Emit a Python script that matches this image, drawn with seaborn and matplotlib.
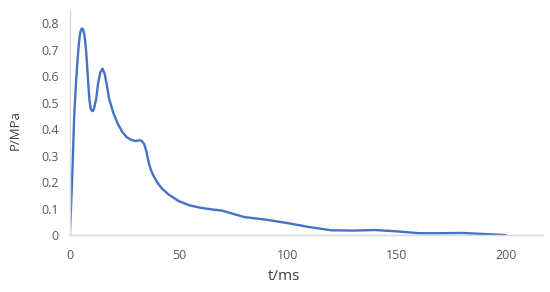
import matplotlib
matplotlib.use("Agg")
import matplotlib.pyplot as plt
import seaborn as sns
import pandas as pd

# Pressure curve (t in ms, P in MPa)
t_ms = [0, 1, 2, 3, 4, 4.5, 5, 5.5, 6, 6.5, 7, 7.5, 8, 8.5, 9, 9.5, 10, 10.5,
        11, 12, 13, 14, 15, 16, 17, 18, 20, 22, 24, 26, 28, 30, 32, 33, 34,
        35, 36, 37, 38, 40, 42, 45, 50, 55, 60, 65, 70, 75, 80, 90, 100, 110,
        120, 130, 140, 150, 160, 170, 180, 190, 200]
p_mpa = [0, 0.20, 0.45, 0.60, 0.71, 0.75, 0.772, 0.78, 0.777, 0.763, 0.735,
         0.69, 0.63, 0.565, 0.51, 0.48, 0.47, 0.468, 0.475, 0.51, 0.575,
         0.615, 0.628, 0.608, 0.565, 0.515, 0.46, 0.42, 0.39, 0.37, 0.36,
         0.355, 0.358, 0.355, 0.345, 0.32, 0.28, 0.25, 0.23, 0.20, 0.178,
         0.155, 0.128, 0.112, 0.103, 0.097, 0.092, 0.080, 0.068, 0.058, 0.045,
         0.030, 0.018, 0.017, 0.019, 0.014, 0.007, 0.007, 0.008, 0.004, 0]
x_ticks = [0, 50, 100, 150, 200]
y_ticks = [0, 0.1, 0.2, 0.3, 0.4, 0.5, 0.6, 0.7, 0.8]
y_labels = ["0", "0.1", "0.2", "0.3", "0.4", "0.5", "0.6", "0.7", "0.8"]

df = pd.DataFrame({"t": t_ms, "p": p_mpa})

sns.set_theme(style="white")
plt.rcParams["font.family"] = ["Open Sans", "DejaVu Sans"]

fig = plt.figure(figsize=(5.5, 2.92), dpi=100)
ax = fig.add_axes([0.127, 0.195, 0.86, 0.771])

sns.lineplot(data=df, x="t", y="p", color="#4472C4", linewidth=1.7, ax=ax)

ax.set_xlim(0, 217)
ax.set_ylim(0, 0.85)
ax.set_xticks(x_ticks)
ax.set_yticks(y_ticks)
ax.set_yticklabels(y_labels)

for side in ["top", "right"]:
    ax.spines[side].set_visible(False)
for side in ["left", "bottom"]:
    ax.spines[side].set_color("#d9d9d9")
    ax.spines[side].set_linewidth(1.0)

ax.tick_params(axis="both", colors="#d9d9d9", labelcolor="#595959",
               labelsize=9, length=4, width=0.8, direction="inout")
ax.tick_params(axis="x", pad=8)
ax.tick_params(axis="y", pad=6)

ax.set_xlabel("t/ms", fontsize=11, color="#404040", va="center")
ax.set_ylabel("P/MPa", fontsize=9.5, color="#404040", va="center")
ax.xaxis.set_label_coords(0.452, -0.185)
ax.yaxis.set_label_coords(-0.116, 0.467)

fig.savefig("out.png", dpi=100)
